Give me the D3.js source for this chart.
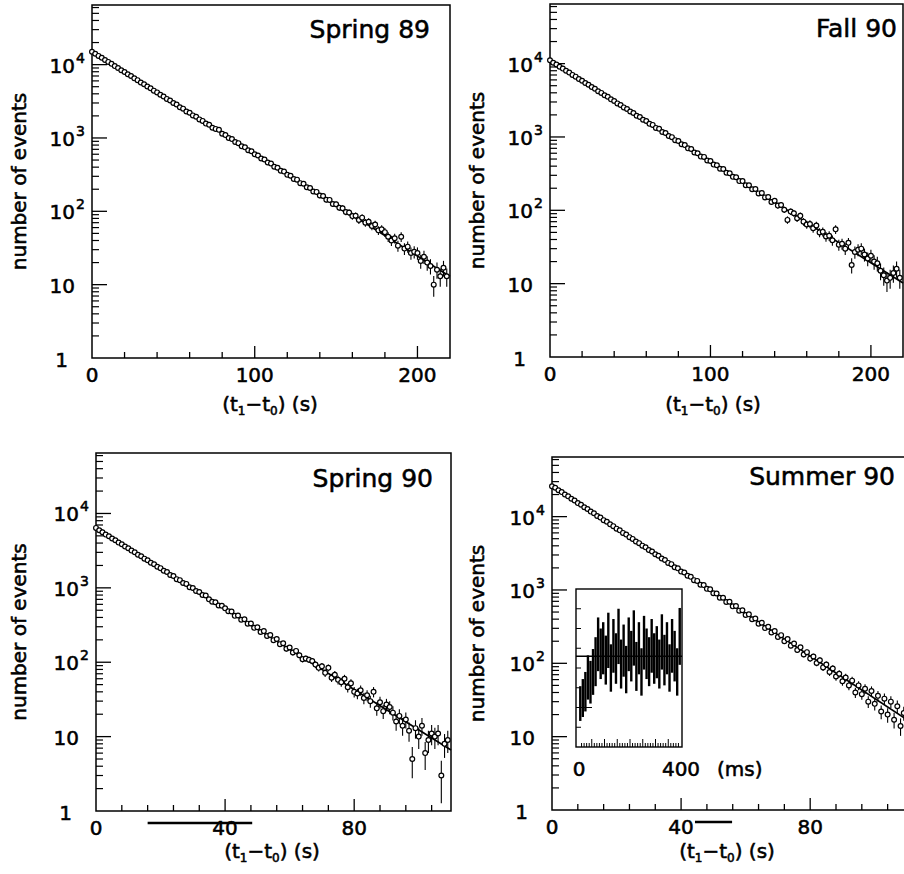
<!DOCTYPE html>
<html><head><meta charset="utf-8">
<script src="https://cdn.jsdelivr.net/npm/d3@7"></script>
<style>
body{margin:0;background:#fff;}
svg{display:block;font-family:"DejaVu Sans",sans-serif;}
svg text{stroke:#000;stroke-width:0.55px;fill:#000;}
</style></head><body>
<svg id="chart" width="904" height="874"></svg>
<script>
// ---------------- DATA ----------------
const panelNames = ["Spring 89", "Fall 90", "Spring 90", "Summer 90"];
const binWidth = [2, 2, 1, 1];           // seconds per bin
const xMax = [220, 220, 110, 110];
const xTickLabels = [[0, 100, 200], [0, 100, 200], [0, 40, 80], [0, 40, 80]];
const xMinorStep = [20, 20, 8, 8];
const yMin = 1, yMax = 65000;
const yTickDecades = [1, 10, 100, 1000, 10000];

const spring89 = [15000, 14100, 13150, 12400, 11550, 10900, 10250, 9540, 9010, 8400,
  7920, 7380, 6980, 6500, 6140, 5700, 5400, 5020, 4760, 4420,
  4180, 3880, 3680, 3410, 3240, 3000, 2860, 2620, 2510, 2300,
  2210, 2030, 1950, 1790, 1710, 1570, 1510, 1380, 1330, 1290,
  1140, 1095, 1000, 965, 880, 850, 770, 745, 680, 660,
  600, 578, 525, 508, 462, 447, 405, 392, 357, 348,
  314, 305, 276, 270, 242, 238, 213, 208, 186, 184,
  164, 162, 144, 143, 126, 125, 112, 110, 98, 96,
  86, 87, 76, 82, 70, 72, 63, 66, 55, 57,
  52, 45, 40, 43, 34, 45, 31, 33, 27, 28,
  27, 21, 24, 20, 18, 10, 16, 13, 17, 13];

const fall90 = [11100, 10300, 9720, 9050, 8560, 7980, 7540, 7020, 6640, 6180,
  5850, 5430, 5150, 4790, 4540, 4210, 3990, 3700, 3530, 3260,
  3100, 2870, 2730, 2530, 2410, 2220, 2120, 1950, 1870, 1720,
  1650, 1510, 1460, 1330, 1290, 1170, 1130, 1030, 995, 905,
  880, 795, 775, 700, 685, 615, 600, 540, 535, 478,
  470, 420, 412, 368, 365, 325, 320, 286, 283, 250,
  250, 220, 220, 194, 195, 170, 172, 150, 152, 130,
  135, 116, 118, 102, 74, 96, 91, 78, 84, 70,
  64, 65, 57, 62, 50, 51, 44, 45, 39, 55,
  34, 35, 30, 36, 18, 27, 29, 30, 25, 22,
  24, 20, 19, 15, 13, 11, 12, 14, 16, 12];

const spring90 = [6400, 5950, 5600, 5200, 4950, 4600, 4370, 4060, 3860, 3590,
  3410, 3170, 3010, 2790, 2660, 2470, 2350, 2170, 2080, 1920,
  1840, 1700, 1630, 1490, 1440, 1310, 1270, 1160, 1130, 1020,
  995, 905, 880, 800, 790, 700, 650, 640, 580, 575,
  530, 485, 480, 420, 425, 372, 378, 330, 332, 290,
  295, 255, 262, 225, 232, 198, 205, 175, 180, 152,
  158, 135, 142, 124, 110, 112, 108, 104, 93, 84,
  88, 72, 84, 62, 68, 58, 54, 60, 46, 52,
  40, 38, 42, 33, 36, 30, 40, 24, 29, 22,
  27, 25, 21, 16, 19, 14, 17, 12, 5, 13,
  10, 14, 6, 9, 11, 10, 11, 3, 8, 9];

const summer90 = [26000, 24800, 22900, 21600, 20000, 18900, 17500, 16600, 15300, 14500,
  13400, 12700, 11700, 11100, 10200, 9700, 8950, 8500, 7850, 7420,
  6850, 6500, 6000, 5690, 5250, 4970, 4590, 4350, 4020, 3810,
  3510, 3340, 3070, 2930, 2680, 2560, 2340, 2250, 2040, 1970,
  1780, 1730, 1560, 1510, 1360, 1330, 1180, 1165, 1035, 1020,
  900, 895, 785, 785, 685, 690, 598, 605, 522, 530,
  455, 465, 398, 408, 346, 358, 302, 315, 263, 275,
  228, 242, 200, 214, 174, 186, 152, 165, 132, 142,
  116, 124, 101, 110, 88, 96, 76, 85, 66, 72,
  57, 64, 50, 58, 40, 50, 38, 45, 30, 42,
  28, 36, 22, 33, 20, 30, 17, 26, 14, 21];

const fitStart = [15200, 11000, 6300, 26300];
const fitEnd = [12.9, 10.2, 6.6, 17];

// inset (Summer 90): counts in 10 ms bins, 0-400 ms
const insetBinMs = 10;
const insetCounts = [55, 62, 70, 88, 82, 95, 108, 130, 118, 125,
  110, 135, 100, 128, 112, 140, 105, 122, 98, 130,
  115, 138, 102, 125, 95, 132, 118, 108, 128, 112,
  120, 105, 133, 110, 125, 100, 128, 115, 95, 140];
const insetErr = [22, 24, 25, 28, 27, 29, 31, 34, 32, 33,
  31, 35, 30, 34, 32, 35, 31, 33, 30, 34,
  32, 35, 31, 33, 30, 34, 32, 31, 34, 32,
  33, 31, 35, 32, 33, 30, 34, 32, 30, 36];
const insetFit = 115;
const insetXLabels = ["0", "400"];

// scan marks under the axis (data units of x)
const scanMarks = [null, null, [16, 48.4], [44.3, 55.8]];

const allCounts = [spring89, fall90, spring90, summer90];

// ---------------- LAYOUT ----------------
const layout = [
  {left: 92, right: 450, top: 5, bottom: 358, titleX: 430, titleY: 38, yLabelX: 26, xLabelX: 270, xLabelY: 411},
  {left: 550, right: 903, top: 4, bottom: 357, titleX: 897, titleY: 37, yLabelX: 484, xLabelX: 713, xLabelY: 411},
  {left: 96, right: 451, top: 453, bottom: 811, titleX: 433, titleY: 487, yLabelX: 26, xLabelX: 272, xLabelY: 858},
  {left: 552, right: 907, top: 457, bottom: 810, titleX: 895, titleY: 485, yLabelX: 484, xLabelX: 727, xLabelY: 858}
];

const svg = d3.select("#chart");

allCounts.forEach((counts, p) => {
  const L = layout[p];
  const g = svg.append("g");
  const x = d3.scaleLinear().domain([0, xMax[p]]).range([L.left, L.right]);
  const y = d3.scaleLog().domain([yMin, yMax]).range([L.bottom, L.top]);
  const data = counts.map((c, i) => ({t: i * binWidth[p], n: c}));

  // frame
  g.append("rect").attr("x", L.left).attr("y", L.top)
    .attr("width", L.right - L.left).attr("height", L.bottom - L.top)
    .attr("fill", "none").attr("stroke", "#000").attr("stroke-width", 1.5);

  // x ticks (inward)
  const xt = d3.range(xMinorStep[p], xMax[p], xMinorStep[p]);
  g.selectAll(".xt").data(xt).join("line")
    .attr("x1", d => x(d)).attr("x2", d => x(d))
    .attr("y1", L.bottom).attr("y2", d => L.bottom - (xTickLabels[p].includes(d) ? 12 : 6))
    .attr("stroke", "#000").attr("stroke-width", 1.3);
  g.selectAll(".xl").data(xTickLabels[p]).join("text")
    .attr("x", d => x(d)).attr("y", L.bottom + 24)
    .attr("text-anchor", "middle").attr("font-size", 20).text(d => d);

  // y ticks
  const minor = [];
  yTickDecades.forEach(d => { for (let k = 2; k <= 9; k++) if (d * k < yMax) minor.push(d * k); });
  g.selectAll(".ym").data(minor).join("line")
    .attr("x1", L.left).attr("x2", L.left + 7)
    .attr("y1", d => y(d)).attr("y2", d => y(d))
    .attr("stroke", "#000").attr("stroke-width", 1.2);
  g.selectAll(".yM").data(yTickDecades.slice(1)).join("line")
    .attr("x1", L.left).attr("x2", L.left + 15)
    .attr("y1", d => y(d)).attr("y2", d => y(d))
    .attr("stroke", "#000").attr("stroke-width", 1.3);
  yTickDecades.forEach(d => {
    const ty = y(d) + 8;
    const e = Math.round(Math.log10(d));
    if (e === 0) {
      g.append("text").attr("x", L.left - 24).attr("y", ty + 1).attr("text-anchor", "end")
        .attr("font-size", 20).text("1");
    } else if (e === 1) {
      g.append("text").attr("x", L.left - 17).attr("y", ty).attr("text-anchor", "end")
        .attr("font-size", 20).text("10");
    } else {
      g.append("text").attr("x", L.left - 17).attr("y", ty).attr("text-anchor", "end")
        .attr("font-size", 20).text("10");
      g.append("text").attr("x", L.left - 16).attr("y", ty - 10).attr("text-anchor", "start")
        .attr("font-size", 14).text(e);
    }
  });

  // axis titles
  g.append("text").attr("transform", `translate(${L.yLabelX},${(L.top + L.bottom) / 2}) rotate(-90)`)
    .attr("text-anchor", "middle").attr("font-size", 20).text("number of events");
  const xl = g.append("text").attr("x", L.xLabelX).attr("y", L.xLabelY)
    .attr("text-anchor", "middle").attr("font-size", 20);
  xl.append("tspan").text("(t");
  xl.append("tspan").attr("font-size", 12).attr("dy", 4).text("1");
  xl.append("tspan").attr("dy", -4).text("\u2212t");
  xl.append("tspan").attr("font-size", 12).attr("dy", 4).text("0");
  xl.append("tspan").attr("dy", -4).text(") (s)");

  // title
  g.append("text").attr("x", L.titleX).attr("y", L.titleY).attr("text-anchor", "end")
    .attr("font-size", 25).text(panelNames[p]);

  // error bars
  g.selectAll(".eb").data(data.filter(d => Math.sqrt(d.n) / d.n > 0.03)).join("line")
    .attr("x1", d => x(d.t)).attr("x2", d => x(d.t))
    .attr("y1", d => y(Math.max(d.n - Math.sqrt(d.n), 1.05)))
    .attr("y2", d => y(d.n + Math.sqrt(d.n)))
    .attr("stroke", "#000").attr("stroke-width", 1.1);

  // fit line
  g.append("line").attr("x1", x(0)).attr("y1", y(fitStart[p]))
    .attr("x2", x(xMax[p])).attr("y2", y(fitEnd[p]))
    .attr("stroke", "#000").attr("stroke-width", 1.7);

  // points
  g.selectAll(".pt").data(data).join("circle")
    .attr("cx", d => x(d.t)).attr("cy", d => y(d.n)).attr("r", 2.4)
    .attr("fill", "#fff").attr("stroke", "#000").attr("stroke-width", 1.2);

  // scan marks
  if (scanMarks[p]) {
    g.append("line").attr("x1", x(scanMarks[p][0])).attr("x2", x(scanMarks[p][1]))
      .attr("y1", L.bottom + 12).attr("y2", L.bottom + 12)
      .attr("stroke", "#000").attr("stroke-width", 2.6);
  }
});

// ---------------- INSET ----------------
const IL = {left: 576, right: 682, top: 589, bottom: 747};
const ig = svg.append("g");
const ix = d3.scaleLinear().domain([0, 400]).range([IL.left + 3, IL.right - 1]);
const iy = d3.scaleLinear().domain([0, 200]).range([IL.bottom, IL.top]);
ig.append("rect").attr("x", IL.left).attr("y", IL.top)
  .attr("width", IL.right - IL.left).attr("height", IL.bottom - IL.top)
  .attr("fill", "#fff").attr("stroke", "#000").attr("stroke-width", 1.4);
// inset ticks
ig.selectAll(".ixt").data(d3.range(10, 400, 10)).join("line")
  .attr("x1", d => ix(d)).attr("x2", d => ix(d))
  .attr("y1", IL.bottom).attr("y2", d => IL.bottom - (d % 50 === 0 ? 8 : 4))
  .attr("stroke", "#000").attr("stroke-width", 1);
ig.selectAll(".iyt").data(d3.range(25, 200, 25)).join("line")
  .attr("x1", IL.left).attr("x2", d => IL.left + (d === 50 ? 16 : 5))
  .attr("y1", d => iy(d)).attr("y2", d => iy(d))
  .attr("stroke", "#000").attr("stroke-width", 1);
// inset bars
const idata = insetCounts.map((c, i) => ({t: (i + 0.5) * insetBinMs, n: c, e: insetErr[i]}));
ig.selectAll(".ib").data(idata).join("line")
  .attr("x1", d => ix(d.t)).attr("x2", d => ix(d.t))
  .attr("y1", d => iy(d.n - d.e)).attr("y2", d => iy(d.n + d.e))
  .attr("stroke", "#000").attr("stroke-width", 2.4);
ig.append("line").attr("x1", IL.left).attr("x2", IL.right)
  .attr("y1", iy(insetFit)).attr("y2", iy(insetFit))
  .attr("stroke", "#000").attr("stroke-width", 1.5);
ig.append("text").attr("x", ix(0)).attr("y", 776).attr("text-anchor", "middle")
  .attr("font-size", 20).text(insetXLabels[0]);
ig.append("text").attr("x", ix(400)).attr("y", 776).attr("text-anchor", "middle")
  .attr("font-size", 20).text(insetXLabels[1]);
ig.append("text").attr("x", ix(400) + 36).attr("y", 776).attr("text-anchor", "start")
  .attr("font-size", 20).text("(ms)");
</script>
</body></html>
